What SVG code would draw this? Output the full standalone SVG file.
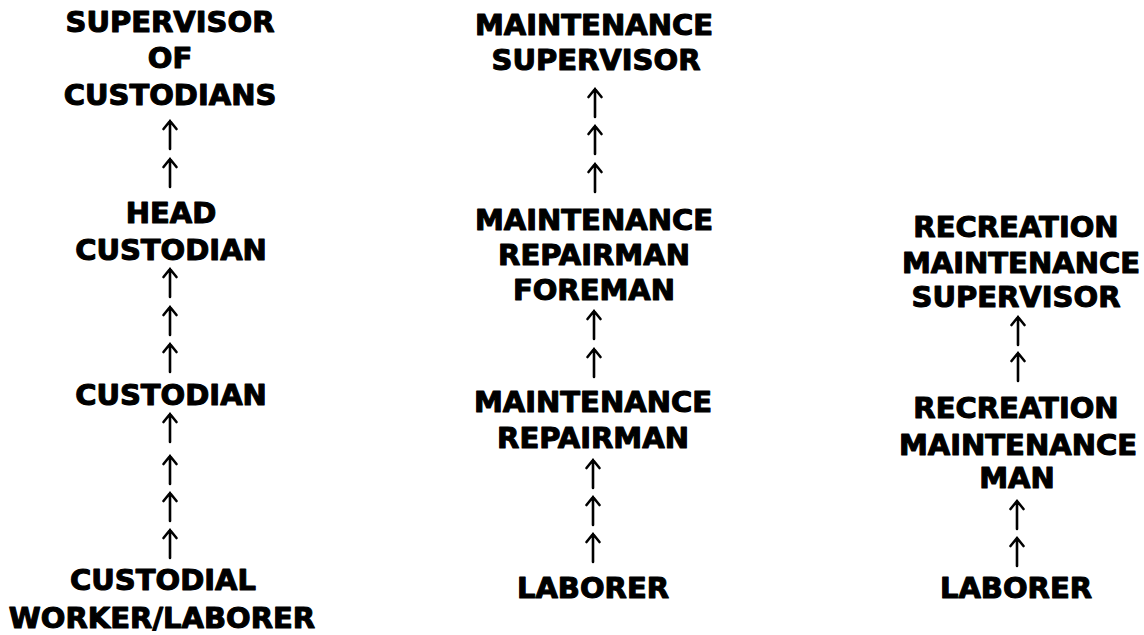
<svg xmlns="http://www.w3.org/2000/svg" xmlns:xlink="http://www.w3.org/1999/xlink" width="1144" height="635" viewBox="0 0 1144 635">
<style>
.t{font-family:"DejaVu Sans","Verdana",sans-serif;font-weight:bold;font-size:29px;fill:#000;stroke:#000;stroke-width:1.1;stroke-linejoin:round;text-anchor:middle}
.a{fill:none;stroke:#000;stroke-width:2.6;stroke-linecap:round;stroke-linejoin:miter}
</style>
<defs>
<path id="arr" class="a" d="M0,1 V29 M-6.5,9 L0,1 L6.5,9"/>
</defs>
<rect width="1144" height="635" fill="#fff"/>
<g id="connectors">
<use xlink:href="#arr" x="170" y="120"/>
<use xlink:href="#arr" x="170" y="158"/>
<use xlink:href="#arr" x="170" y="268"/>
<use xlink:href="#arr" x="170" y="306"/>
<use xlink:href="#arr" x="170" y="343"/>
<use xlink:href="#arr" x="170" y="413"/>
<use xlink:href="#arr" x="170" y="455"/>
<use xlink:href="#arr" x="170" y="492"/>
<use xlink:href="#arr" x="170" y="529"/>
<use xlink:href="#arr" x="595" y="88"/>
<use xlink:href="#arr" x="595" y="125"/>
<use xlink:href="#arr" x="595" y="163"/>
<use xlink:href="#arr" x="594" y="310"/>
<use xlink:href="#arr" x="594" y="348"/>
<use xlink:href="#arr" x="593" y="459"/>
<use xlink:href="#arr" x="593" y="496"/>
<use xlink:href="#arr" x="593" y="533"/>
<use xlink:href="#arr" x="1018" y="316"/>
<use xlink:href="#arr" x="1018" y="352"/>
<use xlink:href="#arr" x="1017" y="500"/>
<use xlink:href="#arr" x="1017" y="537"/>
</g>
<g id="supervisor-of-custodians"><text class="t" x="170" y="32">SUPERVISOR</text><text class="t" x="170" y="68">OF</text><text class="t" x="170" y="105">CUSTODIANS</text></g>
<g id="head-custodian"><text class="t" x="171" y="223">HEAD</text><text class="t" x="171" y="260">CUSTODIAN</text></g>
<g id="custodian"><text class="t" x="171" y="405">CUSTODIAN</text></g>
<g id="custodial-worker"><text class="t" x="163" y="590">CUSTODIAL</text><text class="t" x="162" y="628">WORKER/LABORER</text></g>
<g id="maintenance-supervisor"><text class="t" x="594" y="35">MAINTENANCE</text><text class="t" x="596" y="70">SUPERVISOR</text></g>
<g id="maintenance-repairman-foreman"><text class="t" x="594" y="230">MAINTENANCE</text><text class="t" x="594" y="265">REPAIRMAN</text><text class="t" x="594" y="300">FOREMAN</text></g>
<g id="maintenance-repairman"><text class="t" x="593" y="412">MAINTENANCE</text><text class="t" x="593" y="448">REPAIRMAN</text></g>
<g id="laborer-2"><text class="t" x="593" y="598">LABORER</text></g>
<g id="recreation-maintenance-supervisor"><text class="t" x="1016" y="237">RECREATION</text><text class="t" x="1021" y="273">MAINTENANCE</text><text class="t" x="1016" y="307">SUPERVISOR</text></g>
<g id="recreation-maintenance-man"><text class="t" x="1016" y="418">RECREATION</text><text class="t" x="1018" y="455">MAINTENANCE</text><text class="t" x="1017" y="488">MAN</text></g>
<g id="laborer-3"><text class="t" x="1016" y="598">LABORER</text></g>
</svg>
